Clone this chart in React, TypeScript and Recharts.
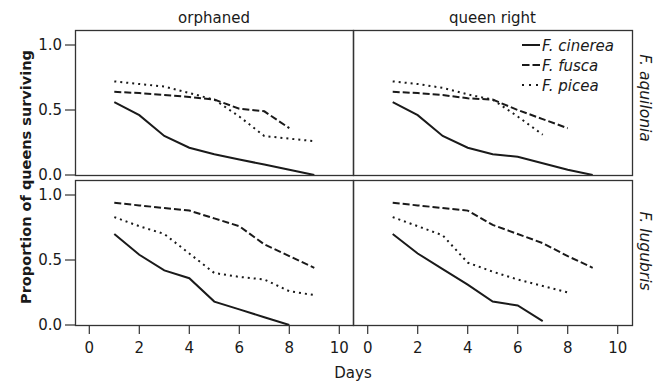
import { LineChart, Line, XAxis, YAxis } from "recharts";

// days since start
const days = [1, 2, 3, 4, 5, 6, 7, 8, 9];
const species = ["F. cinerea", "F. fusca", "F. picea"];
const xTicks = [0, 2, 4, 6, 8, 10];
const yTicks = [0, 0.5, 1];

// F. aquilonia, orphaned
const aqOrphCinerea = [0.56, 0.46, 0.30, 0.21, 0.16, 0.12, 0.08, 0.04, 0.0];
const aqOrphFusca = [0.64, 0.63, 0.615, 0.60, 0.58, 0.51, 0.49, 0.36];
const aqOrphPicea = [0.72, 0.70, 0.68, 0.63, 0.58, 0.45, 0.30, 0.28, 0.26];

// F. aquilonia, queen right
const aqQrCinerea = [0.56, 0.46, 0.30, 0.21, 0.16, 0.14, 0.09, 0.04, 0.0];
const aqQrFusca = [0.64, 0.63, 0.615, 0.59, 0.58, 0.50, 0.43, 0.36];
const aqQrPicea = [0.72, 0.70, 0.67, 0.62, 0.58, 0.45, 0.31];

// F. lugubris, orphaned
const luOrphCinerea = [0.70, 0.54, 0.42, 0.36, 0.18, 0.12, 0.06, 0.0];
const luOrphFusca = [0.94, 0.92, 0.90, 0.88, 0.82, 0.76, 0.62, 0.53, 0.44];
const luOrphPicea = [0.83, 0.76, 0.70, 0.55, 0.40, 0.37, 0.35, 0.26, 0.23];

// F. lugubris, queen right
const luQrCinerea = [0.70, 0.55, 0.43, 0.31, 0.18, 0.15, 0.03];
const luQrFusca = [0.94, 0.92, 0.90, 0.88, 0.77, 0.70, 0.63, 0.53, 0.44];
const luQrPicea = [0.83, 0.76, 0.69, 0.48, 0.41, 0.35, 0.30, 0.25];

const FONT = "'DejaVu Sans', Verdana, sans-serif";
const INK = "#1a1a1a";
const keys = ["cinerea", "fusca", "picea"];
const dashFor: Record<string, string | undefined> = {
  cinerea: undefined,
  fusca: "7 3",
  picea: "2 4",
};

function rows(c: number[], f: number[], p: number[]) {
  return days.map((d, i) => ({ day: d, cinerea: c[i], fusca: f[i], picea: p[i] }));
}

type PanelProps = {
  data: any[];
  left: number;
  top: number;
  width: number;
  showX: boolean;
  showY: boolean;
  xDomain: [number, number];
};

// pad keeps tick labels at the panel edges from being clipped
const PAD = 12;

function Panel({ data, left, top, width, showX, showY, xDomain }: PanelProps) {
  const plotH = 145;
  return (
    <div style={{ position: "absolute", left, top: top - PAD }}>
      <LineChart
        width={width}
        height={plotH + 2 * PAD + (showX ? 30 : 0)}
        data={data}
        margin={{ top: PAD, right: 0, bottom: PAD, left: 0 }}
      >
        <XAxis
          dataKey="day"
          type="number"
          domain={xDomain}
          allowDataOverflow
          ticks={xTicks}
          interval={0}
          hide={!showX}
          height={30}
          axisLine={false}
          tickSize={9}
          tickMargin={8}
          tickLine={{ stroke: "#333", strokeWidth: 1.2 }}
          tick={{ fill: INK, fontSize: 15, fontFamily: FONT }}
        />
        <YAxis
          type="number"
          domain={[0, 1.1154]}
          allowDataOverflow
          ticks={yTicks}
          interval={0}
          hide={!showY}
          width={75}
          axisLine={false}
          tickSize={10}
          tickMargin={3}
          tickFormatter={(v: number) => v.toFixed(1)}
          tickLine={{ stroke: "#333", strokeWidth: 1.2 }}
          tick={{ fill: INK, fontSize: 15, fontFamily: FONT }}
        />
        {keys.map((k) => (
          <Line
            key={k}
            type="linear"
            dataKey={k}
            stroke={INK}
            strokeWidth={2}
            strokeDasharray={dashFor[k]}
            dot={false}
            activeDot={false}
            isAnimationActive={false}
          />
        ))}
      </LineChart>
    </div>
  );
}

export default function App() {
  const leftDom: [number, number] = [-0.572, 10.548];
  const rightDom: [number, number] = [-0.588, 10.572];
  const panels = [
    { x: 75, y: 30, w: 278 },
    { x: 353, y: 30, w: 279 },
    { x: 75, y: 180, w: 278 },
    { x: 353, y: 180, w: 279 },
  ];
  return (
    <div
      style={{
        position: "absolute",
        left: 0,
        top: 0,
        width: 659,
        height: 385,
        background: "#fff",
        fontFamily: FONT,
      }}
    >
      <Panel data={rows(aqOrphCinerea, aqOrphFusca, aqOrphPicea)} left={0} top={30} width={353} showX={false} showY xDomain={leftDom} />
      <Panel data={rows(aqQrCinerea, aqQrFusca, aqQrPicea)} left={353} top={30} width={279} showX={false} showY={false} xDomain={rightDom} />
      <Panel data={rows(luOrphCinerea, luOrphFusca, luOrphPicea)} left={0} top={180} width={353} showX showY xDomain={leftDom} />
      <Panel data={rows(luQrCinerea, luQrFusca, luQrPicea)} left={353} top={180} width={279} showX showY={false} xDomain={rightDom} />

      <svg
        width={659}
        height={385}
        style={{ position: "absolute", left: 0, top: 0, pointerEvents: "none" }}
      >
        {panels.map((p, i) => (
          <rect key={i} x={p.x + 0.5} y={p.y + 0.5} width={p.w} height={145} fill="none" stroke="#333" strokeWidth={1.3} />
        ))}
        <text x={214} y={23} textAnchor="middle" fontSize={15} fill={INK} fontFamily={FONT}>orphaned</text>
        <text x={492.5} y={23} textAnchor="middle" fontSize={15} fill={INK} fontFamily={FONT}>queen right</text>
        <text x={353} y={378} textAnchor="middle" fontSize={15} fill={INK} fontFamily={FONT}>Days</text>
        <text
          transform="translate(31,177) rotate(-90)"
          textAnchor="middle"
          fontSize={14.5}
          fontWeight="bold"
          fill={INK}
          fontFamily={FONT}
        >
          Proportion of queens surviving
        </text>
        <text transform="translate(640,98) rotate(90)" textAnchor="middle" fontSize={15.5} fontStyle="italic" fill={INK} fontFamily={FONT}>
          F. aquilonia
        </text>
        <text transform="translate(640,251) rotate(90)" textAnchor="middle" fontSize={15.5} fontStyle="italic" fill={INK} fontFamily={FONT}>
          F. lugubris
        </text>
        {species.map((s, i) => {
          const y = 45 + i * 20;
          const k = keys[i];
          const dash = k === "fusca" ? "7.5 3" : k === "picea" ? "2 5" : undefined;
          return (
            <g key={s}>
              <line x1={522} x2={540} y1={y} y2={y} stroke={INK} strokeWidth={2} strokeDasharray={dash} />
              <text x={542} y={y + 5.5} fontSize={15} fontStyle="italic" fill={INK} fontFamily={FONT}>
                {s}
              </text>
            </g>
          );
        })}
      </svg>
    </div>
  );
}
